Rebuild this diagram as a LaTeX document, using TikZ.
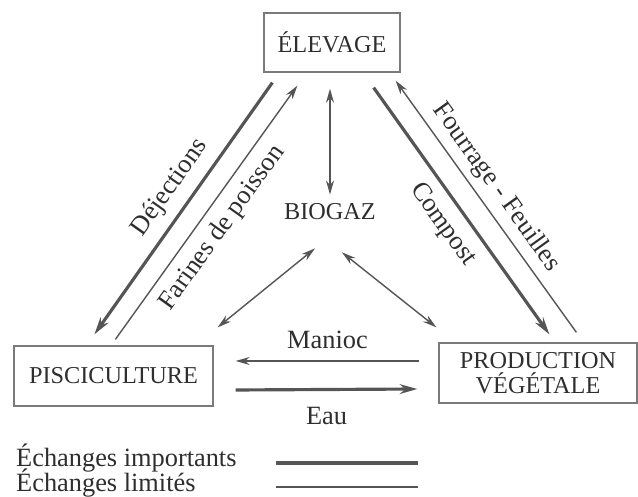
\documentclass[tikz,border=0pt]{standalone}
\usepackage{fontspec}
\setmainfont{Liberation Serif}
\usetikzlibrary{arrows.meta, positioning}
\definecolor{traitgris}{HTML}{555555}
\definecolor{cadregris}{HTML}{7A7A7A}
\definecolor{textegris}{HTML}{2E2E2E}
\tikzset{
  nom/.style={text=textegris, font=\fontsize{13.8}{14.2}\selectfont},
  boite/.style={nom, draw=cadregris, line width=0.7pt, inner sep=0pt, align=center},
  lab/.style={text=textegris, font=\fontsize{15}{17}\selectfont},
  gros/.style={draw=traitgris, line width=1.8pt, -{Stealth[length=10pt, width=5.5pt]}},
  fin/.style={draw=traitgris, line width=0.8pt, -{Stealth[length=8pt, width=4.5pt]}},
  duo/.style={draw=traitgris, line width=0.8pt, {Stealth[length=8pt, width=4.5pt]}-{Stealth[length=8pt, width=4.5pt]}}
}

\begin{document}
\begin{tikzpicture}[>=Stealth]
  \useasboundingbox (0,0) rectangle (12.76,9.94);

  % Boxes
  \node[boite, minimum width=2.72cm, minimum height=1.18cm] (elev) at (6.64,9.09) {ÉLEVAGE};
  \node[boite, minimum width=3.98cm, minimum height=1.20cm] (pisc) at (2.27,2.42) {PISCICULTURE};
  \node[boite, minimum width=3.96cm, minimum height=1.20cm] (prod) at (10.76,2.48) {PRODUCTION\\VÉGÉTALE};
  \node[nom] (bio) at (6.60,5.70) {BIOGAZ};

  % Elevage - pisciculture
  \draw[gros] ([shift={(0.18,-0.20)}]elev.south west) -- node[lab, pos=0.47, sloped, above=2pt] {Déjections} ([shift={(1.62,0.22)}]pisc.north west);
  \draw[fin] ([shift={(2.04,0.12)}]pisc.north west) -- node[lab, pos=0.49, sloped, below=2pt] {Farines de poisson} ([shift={(0.68,-0.26)}]elev.south west);

  % Elevage - production vegetale
  \draw[gros] ([shift={(-0.54,-0.30)}]elev.south east) -- node[lab, pos=0.5, sloped, below=2.5pt] {Compost} ([shift={(2.22,0.16)}]prod.north west);
  \draw[fin] ([shift={(2.76,0.20)}]prod.north west) -- node[lab, pos=0.53, sloped, above=0.5pt] {Fourrage - Feuilles} ([shift={(-0.10,-0.16)}]elev.south east);

  % Biogaz
  \draw[duo, line width=1.1pt] ([shift={(-0.04,-0.32)}]elev.south) -- ([yshift=0.06cm]bio.north);
  \draw[duo] ([shift={(-0.30,-0.44)}]bio.south) -- ([shift={(0.08,0.36)}]pisc.north east);
  \draw[duo] ([shift={(0.24,-0.52)}]bio.south) -- ([shift={(-0.04,0.30)}]prod.north west);

  % Pisciculture - production vegetale
  \draw[fin] ([shift={(-0.38,0.24)}]prod.west) -- node[lab, midway, above=3pt] {Manioc} ([shift={(0.44,0.30)}]pisc.east);
  \draw[gros] ([shift={(0.44,-0.28)}]pisc.east) -- node[lab, midway, below=6pt] {Eau} ([shift={(-0.42,-0.32)}]prod.west);

  % Legend
  \node[lab, anchor=west] (imp) at (0.20,0.78) {Échanges importants};
  \node[lab, anchor=west] (lim) at (0.20,0.27) {Échanges limités};
  \coordinate (g1) at (5.52,0.68);
  \coordinate (g2) at (8.36,0.68);
  \coordinate (f1) at (5.52,0.20);
  \coordinate (f2) at (8.36,0.20);
  \draw[traitgris, line width=1.8pt] (g1) -- (g2);
  \draw[traitgris, line width=0.8pt] (f1) -- (f2);
\end{tikzpicture}
\end{document}
